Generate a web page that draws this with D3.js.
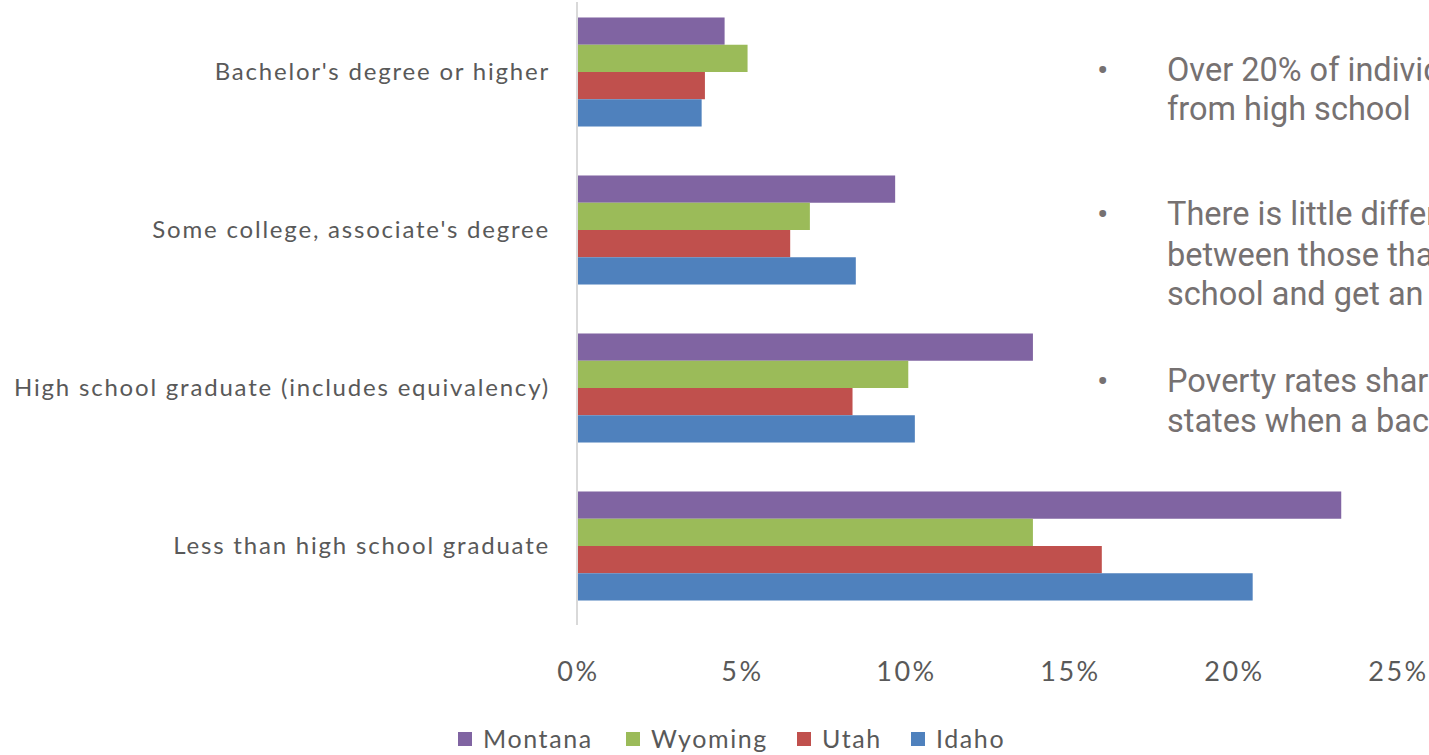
<!DOCTYPE html>
<html><head><meta charset="utf-8">
<script src="https://cdn.jsdelivr.net/npm/d3@7"></script>
<style>html,body{margin:0;padding:0;background:#fff;overflow:hidden}</style>
</head><body><svg id="c" width="1429" height="755"></svg>
<script>
const categories = ["Bachelor's degree or higher","Some college, associate's degree","High school graduate (includes equivalency)","Less than high school graduate"];
const seriesNames = ["Montana","Wyoming","Utah","Idaho"];
const seriesColors = ["#8064A2","#9BBB59","#C0504D","#4F81BD"];
const montana = [4.5, 9.7, 13.9, 23.3];
const wyoming = [5.2, 7.1, 10.1, 13.9];
const utah = [3.9, 6.5, 8.4, 16.0];
const idaho = [3.8, 8.5, 10.3, 20.6];
const tickValues = [0,5,10,15,20,25];
const tickLabels = ["0%","5%","10%","15%","20%","25%"];
const bullets = [
  ["Over 20% of individuals", "from high school"],
  ["There is little difference", "between those that", "school and get an"],
  ["Poverty rates sharply", "states when a bachelor's"]
];

const series = [montana, wyoming, utah, idaho];
const svg = d3.select("#c");
const x = d3.scaleLinear().domain([0,25]).range([577,1397]);
const y0 = d3.scaleBand().domain(categories).range([-7,625]).paddingInner(0.31).paddingOuter(0.155);
const y1 = d3.scaleBand().domain(seriesNames).range([0,y0.bandwidth()]);

// axis line
svg.append("line").attr("x1",x(0)).attr("x2",x(0)).attr("y1",2).attr("y2",625)
  .attr("stroke","#d9d9d9").attr("stroke-width",2);

const g = svg.append("g");
categories.forEach((c,ci)=>{
  seriesNames.forEach((s,si)=>{
    g.append("rect").attr("x",x(0)+1).attr("y",y0(c)+y1(s))
      .attr("width",x(series[si][ci])-x(0)-1).attr("height",y1.bandwidth())
      .attr("fill",seriesColors[si]);
  });
});

// category labels
svg.append("g").selectAll("text").data(categories).join("text")
  .attr("x",550).attr("y",d=>y0(d)+y0.bandwidth()/2).attr("dy","0.35em")
  .attr("text-anchor","end").attr("font-family","Lato, 'Open Sans', sans-serif")
  .attr("font-size",24).attr("letter-spacing","1.8px").attr("fill","#595959").text(d=>d);

// x tick labels
const xa = d3.axisBottom(x).tickValues(tickValues).tickFormat((d,i)=>tickLabels[i]).tickSize(0).tickPadding(0);
const ax = svg.append("g").attr("transform","translate(0,662)").call(xa);
ax.select(".domain").remove();
ax.selectAll("text").attr("font-family","Lato, 'Open Sans', sans-serif").attr("font-size",27)
  .attr("letter-spacing","2.5px").attr("dx","1px").attr("fill","#595959");

// legend
const legX = [458,626,797,911];
const lg = svg.append("g");
seriesNames.forEach((s,i)=>{
  lg.append("rect").attr("x",legX[i]).attr("y",732).attr("width",14).attr("height",14).attr("fill",seriesColors[i]);
  lg.append("text").attr("x",legX[i]+25).attr("y",739).attr("dy","0.35em")
    .attr("font-family","Lato, 'Open Sans', sans-serif").attr("font-size",25).attr("letter-spacing","1.6px")
    .attr("fill","#595959").text(s);
});

// bullet text
const lineY = [[70,109],[214,255,294],[381,421]];
const bt = svg.append("g").attr("font-family","Roboto, sans-serif").attr("font-size",32.5).attr("fill","#767171");
bullets.forEach((lines,bi)=>{
  bt.append("text").attr("x",1097).attr("y",lineY[bi][0]).attr("dy","0.35em").attr("font-size",34).text("•");
  lines.forEach((t,li)=>{
    bt.append("text").attr("x",1167).attr("y",lineY[bi][li]).attr("dy","0.35em").text(t);
  });
});
</script></body></html>
